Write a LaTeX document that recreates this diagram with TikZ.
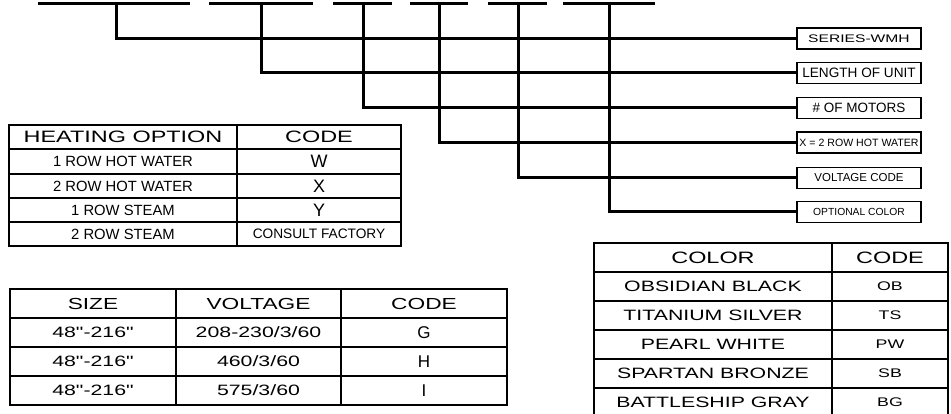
\documentclass[tikz,border=0pt]{standalone}
\usepackage{fontspec}
\setmainfont{Liberation Sans}
\newfontfamily\widefont[FakeStretch=1.42]{Liberation Sans}
\newcommand\fsz[1]{\fontsize{#1}{#1}\selectfont}
\begin{document}
\begin{tikzpicture}[x=1pt,y=-1pt,
  leader/.style={line width=3pt},
  topdash/.style={line width=3.2pt},
  tgrid/.style={line width=1.7pt},
  labbox/.style={draw,line width=1.8pt,minimum width=124pt,minimum height=21pt,inner sep=0pt},
  cell/.style={inner sep=0pt,anchor=center}]
\useasboundingbox (0,0) rectangle (951,414);
% top dashes
\foreach \a/\b [count=\i] in {38/190,209/313,333/392,410/468,488/547,563/655}{
  \coordinate (dl\i) at (\a,3.3);
  \coordinate (dr\i) at (\b,3.3);
  \draw[topdash] (dl\i) -- (dr\i);
}
\coordinate (d1) at (116,3.3);
\coordinate (d2) at (261,3.3);
\coordinate (d3) at (363,3.3);
\coordinate (d4) at (439,3.3);
\coordinate (d5) at (518,3.3);
\coordinate (d6) at (609,3.3);
% label boxes
\node[labbox,font=\widefont\fsz{11}] (b1) at (859,38.5) {SERIES-WMH};
\node[labbox,font=\fsz{13.6}] (b2) at (859,73) {LENGTH OF UNIT};
\node[labbox,font=\fsz{13.5}] (b3) at (859,108) {\# OF MOTORS};
\node[labbox,font=\fsz{10.6}] (b4) at (859,142.5) {X = 2 ROW HOT WATER};
\node[labbox,font=\fsz{11.5}] (b5) at (859,178) {VOLTAGE CODE};
\node[labbox,font=\fsz{10.3}] (b6) at (859,212) {OPTIONAL COLOR};
\foreach \i in {1,...,6}{\draw[leader] (d\i) |- (b\i.west);}
% heating table
\draw[tgrid] (9,125) rectangle (401,246);
\draw[tgrid] (237,125) -- (237,246);
\foreach \y in {149,174,198,222}{\draw[tgrid] (9,\y) -- (401,\y);}
\node[cell,font=\widefont\fsz{16.5}] (h1) at (123,137) {HEATING OPTION};
\node[cell,font=\widefont\fsz{16.5}] (h2) at (319,137) {CODE};
\node[cell,font=\fsz{14.8}] (h3) at (123,161.5) {1 ROW HOT WATER};
\node[cell,font=\fsz{14.8}] (h4) at (123,186) {2 ROW HOT WATER};
\node[cell,font=\fsz{14.8}] (h5) at (123,210) {1 ROW STEAM};
\node[cell,font=\fsz{14.8}] (h6) at (123,234) {2 ROW STEAM};
\node[cell,font=\fsz{18}] (h7) at (319,161.5) {W};
\node[cell,font=\fsz{18}] (h8) at (319,186) {X};
\node[cell,font=\fsz{18}] (h9) at (319,210) {Y};
\node[cell,font=\fsz{13.7}] (h10) at (319,234) {CONSULT FACTORY};
% size table
\draw[tgrid] (10,289) rectangle (507,405);
\draw[tgrid] (176,289) -- (176,405);
\draw[tgrid] (341,289) -- (341,405);
\foreach \y in {318,347,376}{\draw[tgrid] (10,\y) -- (507,\y);}
\node[cell,font=\widefont\fsz{16}] (s1) at (93,303.5) {SIZE};
\node[cell,font=\widefont\fsz{16}] (s2) at (258.5,303.5) {VOLTAGE};
\node[cell,font=\widefont\fsz{16}] (s3) at (424,303.5) {CODE};
\foreach \y/\v/\c [count=\i] in {332.5/208-230\slash 3\slash 60/G,361.5/460\slash 3\slash 60/H,390.5/575\slash 3\slash 60/I}{
  \node[cell,font=\widefont\fsz{15}] (sa\i) at (93,\y) {48"-216"};
  \node[cell,font=\widefont\fsz{15}] (sb\i) at (258.5,\y) {\v};
  \node[cell,font=\fsz{17}] (sc\i) at (424,\y) {\c};
}
% color table
\draw[tgrid] (594,243) rectangle (948,417);
\draw[tgrid] (832,243) -- (832,417);
\foreach \y in {272,301,330,359,388}{\draw[tgrid] (594,\y) -- (948,\y);}
\node[cell,font=\widefont\fsz{16.5}] (c1) at (713,257.5) {COLOR};
\node[cell,font=\widefont\fsz{16.5}] (c2) at (890,257.5) {CODE};
\foreach \y/\n/\c [count=\i] in {286.5/OBSIDIAN BLACK/OB,315.5/TITANIUM SILVER/TS,344.5/PEARL WHITE/PW,373.5/SPARTAN BRONZE/SB,402.5/BATTLESHIP GRAY/BG}{
  \node[cell,font=\widefont\fsz{15}] (cn\i) at (713,\y) {\n};
  \node[cell,font=\widefont\fsz{12.5}] (cc\i) at (890,\y) {\c};
}
\end{tikzpicture}
\end{document}
